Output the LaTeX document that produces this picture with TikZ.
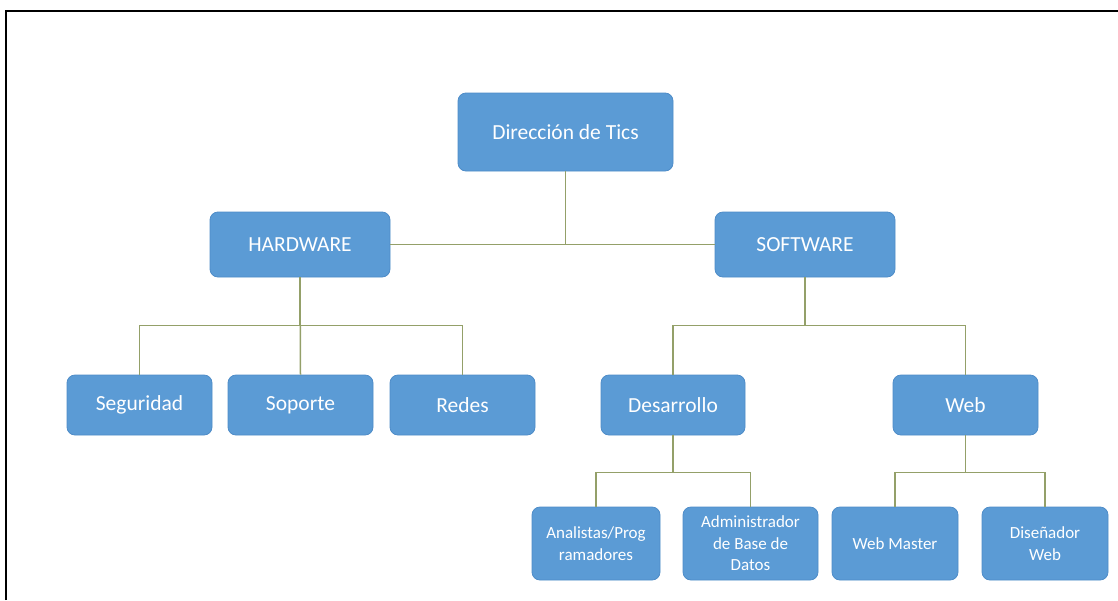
\documentclass[tikz,border=0pt]{standalone}
\usepackage{fontspec}
\setmainfont{Carlito}
\definecolor{boxblue}{HTML}{5B9BD5}
\definecolor{boxedge}{HTML}{4E8CC8}
\definecolor{linkgreen}{HTML}{94A069}
\begin{document}
\begin{tikzpicture}[x=1pt,y=-1pt,
  unit/.style={rectangle, rounded corners=8pt, fill=boxblue, draw=boxedge, line width=0.8pt,
    text=white, align=center, inner sep=2pt},
  big/.style={unit, font=\fontsize{21.5}{25}\selectfont},
  small/.style={unit, font=\fontsize{17}{21.5}\selectfont},
  link/.style={draw=linkgreen, line width=1.5pt}]
\useasboundingbox (0,0) rectangle (1118,600);
\fill[white] (0,0) rectangle (1118,600);
% frame
\draw[line width=2.2pt] (6,600) -- (6,11) -- (1118,11);

% top level
\node[big, minimum width=215pt, minimum height=78pt] (dir) at (565.5,132) {Dirección de Tics};
\node[big, minimum width=180pt, minimum height=65pt] (hw) at (300,244.5) {HARDWARE};
\node[big, minimum width=180pt, minimum height=65pt] (sw) at (805,244.5) {SOFTWARE};

% hardware branch
\node[big, minimum width=145pt, minimum height=60pt] (seg) at (139.5,405) {Seguridad};
\node[big, minimum width=145pt, minimum height=60pt] (sop) at (300.5,405) {Soporte};
\node[big, minimum width=145pt, minimum height=60pt] (red) at (462.5,405) {Redes};

% software branch
\node[big, minimum width=144pt, minimum height=60pt] (des) at (673,405) {Desarrollo};
\node[big, minimum width=145pt, minimum height=60pt] (web) at (965.5,405) {Web};

\node[small, minimum width=128pt, minimum height=73pt] (ana) at (596,543.5) {Analistas/Prog\\ramadores};
\node[small, minimum width=135pt, minimum height=73pt] (adm) at (750.5,543.5) {Administrador\\de Base de\\Datos};
\node[small, minimum width=126pt, minimum height=73pt] (wm) at (895,543.5) {Web Master};
\node[small, minimum width=126pt, minimum height=73pt] (dis) at (1045,543.5) {Diseñador\\Web};

% connectors
\draw[link] (hw.east) -- (sw.west);
\draw[link] (dir.south) -- (dir.south |- hw.east);

\draw[link] (hw.south) -- ++(0,48) -| (seg.north);
\draw[link] (hw.south) -- (sop.north);
\draw[link] (hw.south) -- ++(0,48) -| (red.north);

\draw[link] (sw.south) -- ++(0,48) -| (des.north);
\draw[link] (sw.south) -- ++(0,48) -| (web.north);

\draw[link] (des.south) -- ++(0,37) -| (ana.north);
\draw[link] (des.south) -- ++(0,37) -| (adm.north);

\draw[link] (web.south) -- ++(0,37) -| (wm.north);
\draw[link] (web.south) -- ++(0,37) -| (dis.north);
\end{tikzpicture}
\end{document}
